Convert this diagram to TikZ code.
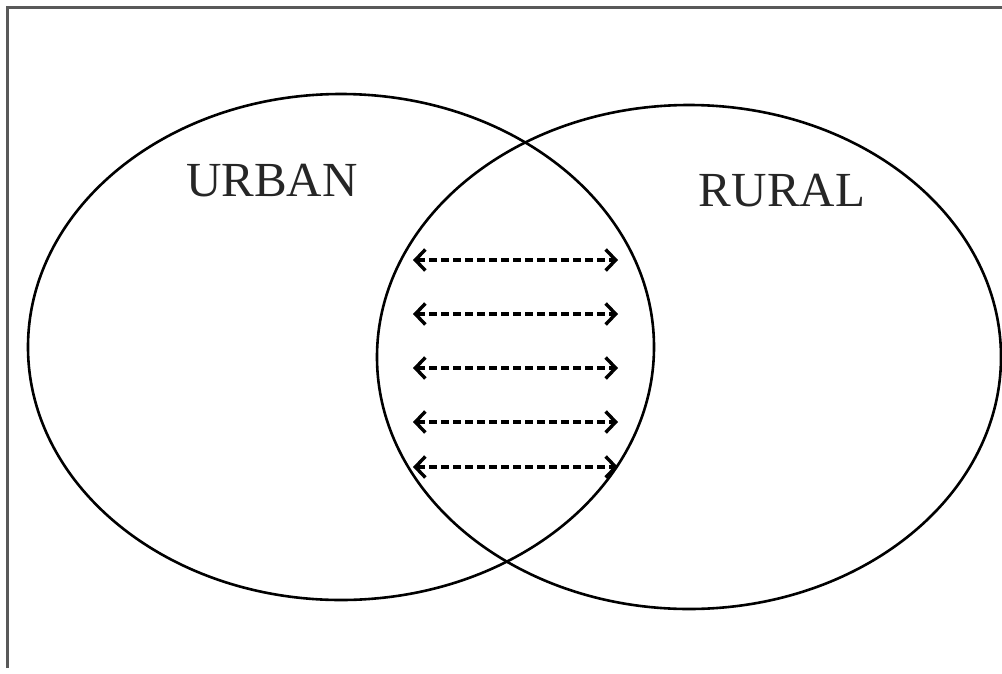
\documentclass[tikz,border=0pt]{standalone}
\usepackage{fontspec}
\setmainfont{Liberation Serif}
\usetikzlibrary{arrows.meta}
\begin{document}
\begin{tikzpicture}[x=1pt,y=-1pt,
  frameline/.style={draw=black!65,line width=3pt},
  setshape/.style={draw=black,line width=2.6pt},
  setlabel/.style={font=\fontsize{49}{58}\selectfont,text=black!85,inner sep=0pt},
  exchange/.style={black,line width=3.4pt,dash pattern=on 8pt off 4pt,
    {Straight Barb[length=10pt,width=21pt,line width=3.4pt]}-{Straight Barb[length=10pt,width=21pt,line width=3.4pt]}}]
\useasboundingbox (0,0) rectangle (1002,673);
\fill[white] (0,0) rectangle (1002,673);
\draw[frameline] (7,668) -- (7,7) -- (1004,7);
\draw[setshape] (341,347) ellipse [x radius=313, y radius=253];
\draw[setshape] (689,357) ellipse [x radius=312, y radius=252];
\node[setlabel] (urban) at (272,181) {URBAN};
\node[setlabel] (rural) at (782,191) {RURAL};
\foreach \i/\y in {1/260,2/314,3/368,4/422,5/467}{
  \coordinate (l\i) at (413,\y);
  \coordinate (r\i) at (618,\y);
  \draw[exchange] (l\i) -- (r\i);
}
\end{tikzpicture}
\end{document}
